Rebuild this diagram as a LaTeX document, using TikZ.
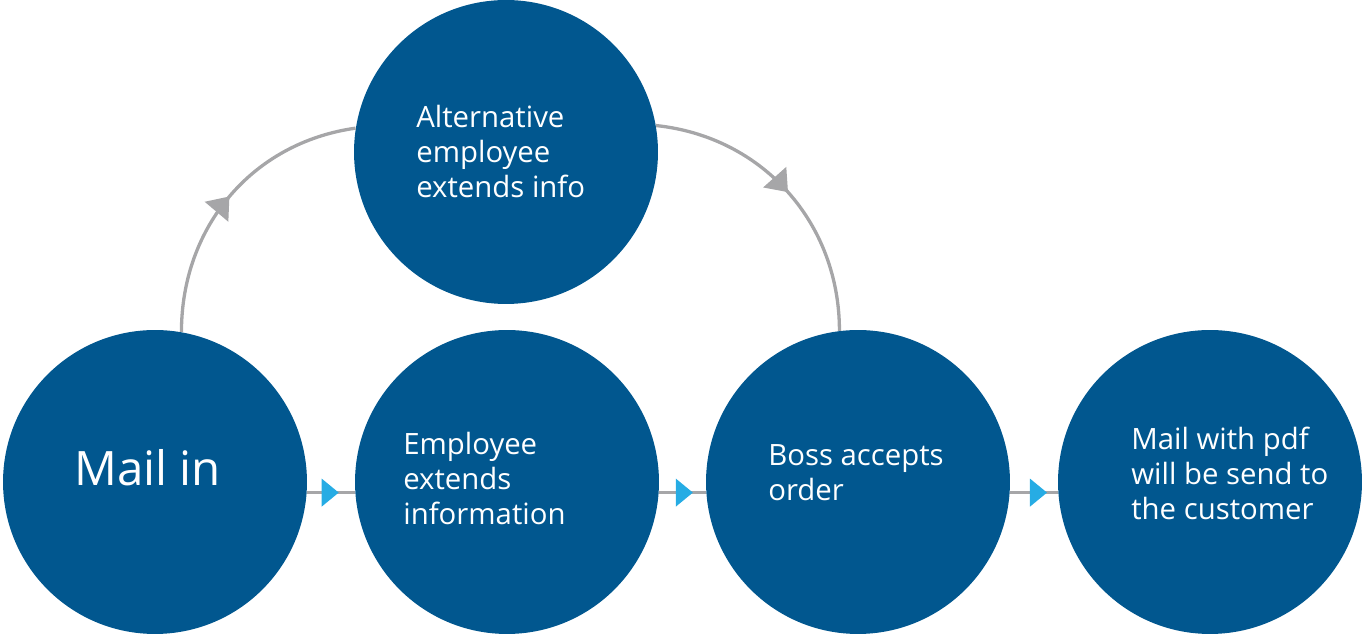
\documentclass[tikz,border=0pt]{standalone}
\usepackage{fontspec}
\setmainfont{Open Sans}
\usetikzlibrary{decorations.markings}

\definecolor{stepblue}{RGB}{1,87,143}
\definecolor{linegray}{RGB}{166,166,168}
\definecolor{tipblue}{RGB}{38,172,228}

\begin{document}
\begin{tikzpicture}[x=0.02cm, y=0.02cm,
		stage/.style={circle, fill=stepblue, minimum size=6.08cm, inner sep=0pt},
		caption/.style={anchor=north west, inner sep=0pt, align=left, text=white, font=\fontsize{16.7}{19.9}\selectfont},
		loop/.style={draw=linegray, line width=0.066cm, postaction={decorate, decoration={markings, mark=at position 0.5 with {\fill[linegray] (0, 0) -- (-20, 15.5) -- (-20, -15.5) -- cycle;}}}},
		flow/.style={draw=linegray, line width=0.06cm, postaction={decorate, decoration={markings, mark=at position #1 with {\fill[tipblue] (0, 0) -- (-17, 14) -- (-17, -14) -- cycle;}}}}]
		\useasboundingbox (0, 0) rectangle (1363, 635);
		
		\node[stage] (mailin) at (155, 153) {};
		\node[stage] (employee) at (507, 153) {};
		\node[stage] (boss) at (858, 153) {};
		\node[stage] (pdfmail) at (1210, 153) {};
		\node[stage] (alternative) at (506, 483) {};
		
		\node[anchor=base west, inner sep=0pt, text=white, font=\fontsize{27}{32}\selectfont] (mailintext) at (74, 149) {Mail in};
		\node[caption] (alttext) at (416, 530) {Alternative\\employee\\extends info};
		\node[caption] (employeetext) at (403, 203) {Employee\\extends\\information};
		\node[caption] (bosstext) at (768, 191) {Boss accepts\\order};
		\node[caption] (pdftext) at (1131, 208) {Mail with pdf\\will be send to\\the customer};
		
		\draw[loop] (mailin.80) to[out=90, in=188] (alternative.171);
		\draw[loop] (alternative.10) to[out=-6, in=90] (boss.97);
		
		\draw[flow=0.66] (mailin.-4) -- (employee.184);
		\draw[flow=0.72] (employee.-4) -- (boss.184);
		\draw[flow=0.77] (boss.-4) -- (pdfmail.184);
	\end{tikzpicture}
\end{document}
